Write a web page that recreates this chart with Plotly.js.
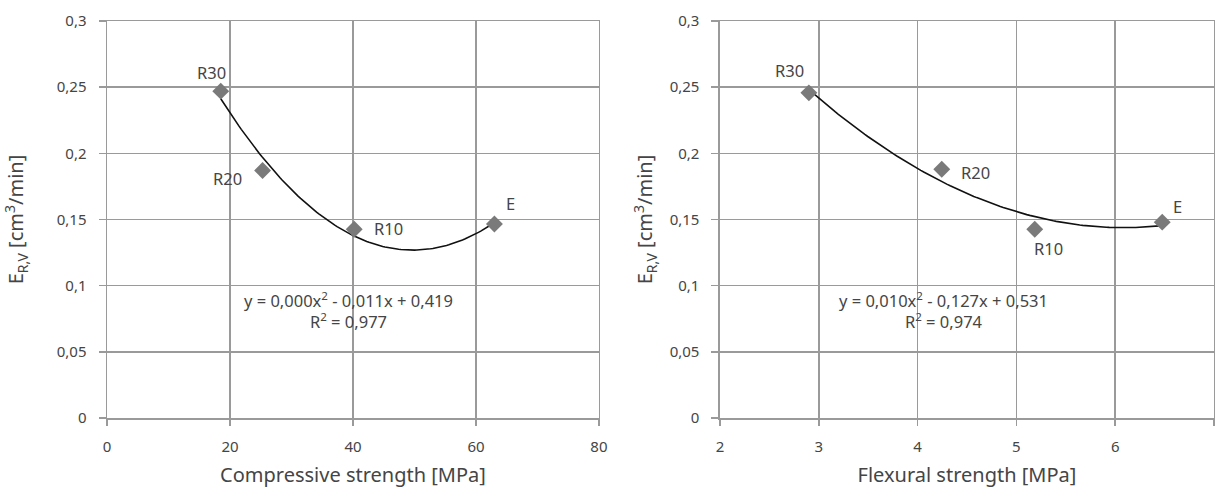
<!DOCTYPE html>
<html><head><meta charset="utf-8">
<script src="https://cdn.plot.ly/plotly-3.0.1.min.js"></script>
<style>html,body{margin:0;padding:0;background:#fff}#chart{width:1215px;height:488px}</style>
</head><body><div id="chart"></div>
<script>
const pointLabels = ['R30', 'R20', 'R10', 'E'];
const compStrength = [18.5, 25.3, 40.2, 63.0];
const compWear = [0.247, 0.187, 0.1426, 0.1466];
const flexStrength = [2.90, 4.245, 5.186, 6.476];
const flexWear = [0.2457, 0.188, 0.1426, 0.148];
const compEquation = 'y = 0,000x<sup>2</sup> - 0,011x + 0,419<br>R<sup>2</sup> = 0,977';
const flexEquation = 'y = 0,010x<sup>2</sup> - 0,127x + 0,531<br>R<sup>2</sup> = 0,974';
const compTickVals = [0, 20, 40, 60, 80];
const flexTickVals = [2, 3, 4, 5, 6, 7];
const yTickVals = [0, 0.05, 0.1, 0.15, 0.2, 0.25, 0.3];

// least-squares quadratic trendline (as the original spreadsheet trendline)
function polyfit2(xs, ys) {
  let S = [0,0,0,0,0], T = [0,0,0];
  for (let i = 0; i < xs.length; i++) {
    let p = 1;
    for (let k = 0; k < 5; k++) { S[k] += p; if (k < 3) T[k] += p * ys[i]; p *= xs[i]; }
  }
  const M = [[S[0],S[1],S[2],T[0]],[S[1],S[2],S[3],T[1]],[S[2],S[3],S[4],T[2]]];
  for (let c = 0; c < 3; c++) {
    let piv = c;
    for (let r = c+1; r < 3; r++) if (Math.abs(M[r][c]) > Math.abs(M[piv][c])) piv = r;
    [M[c], M[piv]] = [M[piv], M[c]];
    for (let r = 0; r < 3; r++) if (r !== c) {
      const f = M[r][c] / M[c][c];
      for (let k = c; k < 4; k++) M[r][k] -= f * M[c][k];
    }
  }
  return [M[0][3]/M[0][0], M[1][3]/M[1][1], M[2][3]/M[2][2]];
}
function trend(xs, ys) {
  const co = polyfit2(xs, ys);
  const x0 = Math.min(...xs), x1 = Math.max(...xs);
  const tx = [], ty = [];
  for (let i = 0; i <= 120; i++) {
    const x = x0 + (x1 - x0) * i / 120;
    tx.push(x); ty.push(co[0] + co[1]*x + co[2]*x*x);
  }
  return {tx, ty};
}
const tc = trend(compStrength, compWear);
const tf = trend(flexStrength, flexWear);

const gridC = '#9a9a9a';
const textC = '#454545';
const font = 'Noto Sans, Open Sans, sans-serif';

const markerStyle = {symbol: 'diamond', size: 13, color: '#7a7a7a'};
const data = [
  {x: tc.tx, y: tc.ty, xaxis: 'x', yaxis: 'y', mode: 'lines', line: {color: '#111', width: 1.6}, hoverinfo: 'skip'},
  {x: compStrength, y: compWear, xaxis: 'x', yaxis: 'y', mode: 'markers', marker: markerStyle, text: pointLabels},
  {x: tf.tx, y: tf.ty, xaxis: 'x2', yaxis: 'y2', mode: 'lines', line: {color: '#111', width: 1.6}, hoverinfo: 'skip'},
  {x: flexStrength, y: flexWear, xaxis: 'x2', yaxis: 'y2', mode: 'markers', marker: markerStyle, text: pointLabels}
];

const compShift = [[-9, 19], [-35, -8], [34, 1], [16, 21]];
const flexShift = [[-19, 22], [34, -3], [14, -19], [15, 16]];
const labelFont = {family: font, size: 16.5, color: textC};
const annotations = [];
pointLabels.forEach((lab, i) => {
  annotations.push({xref: 'x', yref: 'y', x: compStrength[i], y: compWear[i], text: lab, showarrow: false,
    xshift: compShift[i][0], yshift: compShift[i][1], font: labelFont});
  annotations.push({xref: 'x2', yref: 'y2', x: flexStrength[i], y: flexWear[i], text: lab, showarrow: false,
    xshift: flexShift[i][0], yshift: flexShift[i][1], font: labelFont});
});
annotations.push({xref: 'x', yref: 'y', x: 39.2, y: 0.0815, text: compEquation, showarrow: false, align: 'center',
  font: labelFont});
annotations.push({xref: 'x2', yref: 'y2', x: 4.26, y: 0.0815, text: flexEquation, showarrow: false, align: 'center',
  font: labelFont});

function xAxis(domain, range, vals, title, anchor) {
  return {domain, range, tickvals: vals, anchor, showgrid: true, gridcolor: gridC, gridwidth: 1.5,
    showline: true, mirror: true, linecolor: gridC, linewidth: 1.5, zeroline: false,
    ticks: 'outside', ticklen: 6, tickcolor: gridC, tickwidth: 1.5, ticklabelstandoff: 8,
    tickfont: {family: font, size: 15, color: textC}, automargin: false,
    title: {text: title, font: {family: font, size: 20, color: textC}, standoff: 17}};
}
function yAxis(anchor, standoff) {
  return {domain: [0, 1], range: [0, 0.3], tickvals: yTickVals, anchor, showgrid: true, gridcolor: gridC, gridwidth: 1.5,
    showline: true, mirror: true, linecolor: gridC, linewidth: 1.5, zeroline: false,
    ticks: 'outside', ticklen: 7, tickcolor: gridC, tickwidth: 1.5, ticklabelstandoff: 9,
    tickfont: {family: font, size: 15, color: textC}, automargin: false,
    title: {text: 'E<sub>R,V</sub> [cm<sup>3</sup>/min]', font: {family: font, size: 20, color: textC}, standoff}};
}

const layout = {
  width: 1215, height: 488, separators: ', ',
  margin: {l: 107, r: 1, t: 21, b: 70},
  paper_bgcolor: '#fff', plot_bgcolor: '#fff', showlegend: false,
  font: {family: font, color: textC},
  xaxis: xAxis([0, 0.4444], [0, 80], compTickVals, 'Compressive strength [MPa]', 'y'),
  yaxis: yAxis('x', 27),
  xaxis2: xAxis([0.5537, 1], [2, 7], flexTickVals, 'Flexural strength [MPa]', 'y2'),
  yaxis2: yAxis('x2', 11),
  annotations
};
Plotly.newPlot('chart', data, layout, {displayModeBar: false, staticPlot: true});
</script></body></html>
